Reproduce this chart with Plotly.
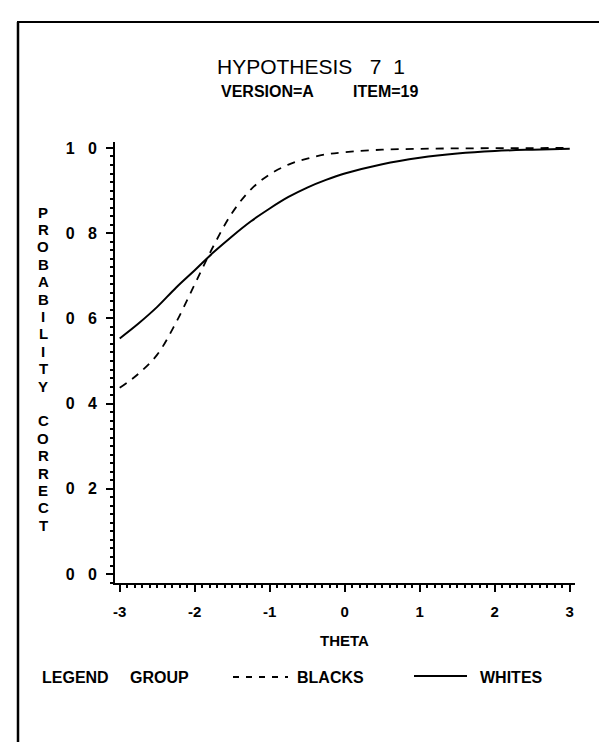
import plotly.graph_objects as go

# ---- data ----
theta = [-3.0, -2.75, -2.5, -2.25, -2.0, -1.75, -1.5, -1.25, -1.0, -0.75, -0.5, -0.25,
         0.0, 0.5, 1.0, 1.5, 2.0, 2.5, 3.0]
whites = [0.553, 0.588, 0.627, 0.672, 0.713, 0.755, 0.793, 0.828, 0.858, 0.885, 0.907, 0.925,
          0.940, 0.962, 0.977, 0.987, 0.993, 0.996, 0.998]
blacks = [0.437, 0.470, 0.515, 0.590, 0.680, 0.770, 0.848, 0.903, 0.938, 0.961, 0.975, 0.985,
          0.990, 0.996, 0.998, 0.999, 0.9995, 0.9998, 1.0]

x_tickvals = [-3, -2, -1, 0, 1, 2, 3]
x_ticktext = ["-3", "-2", "-1", "0", "1", "2", "3"]
y_tickvals = [0.0, 0.2, 0.4, 0.6, 0.8, 1.0]
y_ticktext = ["0\u00a0\u00a0\u00a00", "0\u00a0\u00a0\u00a02", "0\u00a0\u00a0\u00a04",
              "0\u00a0\u00a0\u00a06", "0\u00a0\u00a0\u00a08", "1\u00a0\u00a0\u00a00"]

title1 = "HYPOTHESIS\u00a0\u00a0\u00a07\u00a0\u00a01"
title2a = "VERSION=A"
title2b = "ITEM=19"
x_title = "THETA"
y_title = "PROBABILITY CORRECT"
legend_label = "LEGEND"
legend_group = "GROUP"
series_names = ["BLACKS", "WHITES"]

# ---- layout geometry (pixels) ----
W, H = 607, 742
L, R, T, B = 107, 567, 134, 575   # plot area edges


def px(x):
    return (x - L) / (R - L)


def py(y):
    return (B - y) / (B - T)


FONT = "Liberation Sans"

fig = go.Figure()
fig.add_trace(go.Scatter(x=theta, y=blacks, mode="lines", name=series_names[0],
                         line=dict(color="black", width=1.8, dash="8px,7px", shape="spline"),
                         showlegend=False))
fig.add_trace(go.Scatter(x=theta, y=whites, mode="lines", name=series_names[1],
                         line=dict(color="black", width=2, shape="spline"),
                         showlegend=False))

fig.update_layout(
    width=W, height=H,
    margin=dict(l=L, r=W - R, t=T, b=H - B, pad=0),
    paper_bgcolor="white", plot_bgcolor="white",
    font=dict(family=FONT, color="black", size=15, weight="bold"),
    showlegend=False,
)

fig.update_xaxes(
    range=[-3.063, 3.07], showgrid=False, zeroline=False,
    showline=True, linecolor="black", linewidth=2,
    tickmode="array", tickvals=x_tickvals, ticktext=x_ticktext,
    ticks="outside", ticklen=7, tickwidth=2, tickcolor="black",
    ticklabelstandoff=7,
    tickfont=dict(family=FONT, size=15, weight="bold"),
    minor=dict(tickmode="linear", tick0=-3, dtick=0.1, ticks="outside", ticklen=3,
               tickwidth=1.5, tickcolor="black", showgrid=False),
)
fig.update_yaxes(
    range=[-0.021, 1.014], showgrid=False, zeroline=False,
    showline=True, linecolor="black", linewidth=2,
    tickmode="array", tickvals=y_tickvals, ticktext=y_ticktext,
    ticks="outside", ticklen=7, tickwidth=2, tickcolor="black",
    ticklabelstandoff=6,
    tickfont=dict(family=FONT, size=16, weight="bold"),
    minor=dict(tickmode="linear", tick0=0, dtick=0.02, ticks="outside", ticklen=3,
               tickwidth=1.5, tickcolor="black", showgrid=False),
)

ann = []
ann.append(dict(text=title1, x=px(303), y=py(58.5), xref="paper", yref="paper",
                xanchor="center", yanchor="middle", showarrow=False,
                font=dict(family=FONT, size=21, weight="normal")))
ann.append(dict(text=title2a, x=px(259), y=py(83.5), xref="paper", yref="paper",
                xanchor="center", yanchor="middle", showarrow=False,
                font=dict(family=FONT, size=16, weight="bold")))
ann.append(dict(text=title2b, x=px(377), y=py(83.5), xref="paper", yref="paper",
                xanchor="center", yanchor="middle", showarrow=False,
                font=dict(family=FONT, size=16, weight="bold")))
ann.append(dict(text=x_title, x=px(336), y=py(632.5), xref="paper", yref="paper",
                xanchor="center", yanchor="middle", showarrow=False,
                font=dict(family=FONT, size=15, weight="bold")))
# vertical stacked y-axis title, one upright letter per line
for i, ch in enumerate(y_title):
    if ch == " ":
        continue
    ann.append(dict(text=ch, x=px(35), y=py(204 + i * 17.4), xref="paper", yref="paper",
                    xanchor="center", yanchor="middle", showarrow=False,
                    font=dict(family=FONT, size=15, weight="bold")))
# legend row
for txt, xl in [(legend_label, 32), (legend_group, 120), (series_names[0], 287), (series_names[1], 470)]:
    ann.append(dict(text=txt, x=px(xl), y=py(669.5), xref="paper", yref="paper",
                    xanchor="left", yanchor="middle", showarrow=False,
                    font=dict(family=FONT, size=16, weight="bold")))
fig.update_layout(annotations=ann)

shapes = []
# legend samples
shapes.append(dict(type="line", xref="paper", yref="paper", x0=px(225), x1=px(280),
                   y0=py(669), y1=py(669), line=dict(color="black", width=2, dash="6px,7px")))
shapes.append(dict(type="line", xref="paper", yref="paper", x0=px(406), x1=px(459),
                   y0=py(668), y1=py(668), line=dict(color="black", width=2)))
# page frame
shapes.append(dict(type="line", xref="paper", yref="paper", x0=px(10), x1=px(10),
                   y0=py(14), y1=py(742), line=dict(color="black", width=2.5)))
shapes.append(dict(type="line", xref="paper", yref="paper", x0=px(9), x1=px(606),
                   y0=py(14), y1=py(14), line=dict(color="black", width=2)))
shapes.append(dict(type="line", xref="paper", yref="paper", x0=px(605.5), x1=px(605.5),
                   y0=py(14), y1=py(175), line=dict(color="black", width=1.5)))
fig.update_layout(shapes=shapes)

fig.write_html("out.html")
